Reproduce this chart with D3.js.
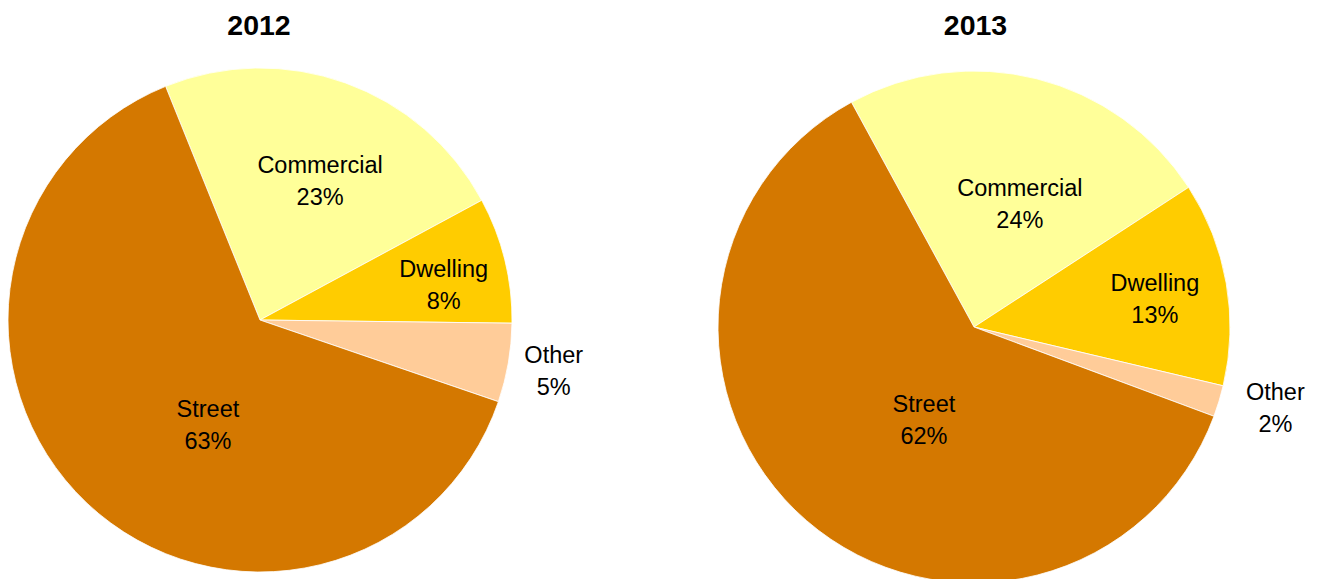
<!DOCTYPE html>
<html>
<head>
<meta charset="utf-8">
<script src="https://cdn.jsdelivr.net/npm/d3@7"></script>
<style>
  html, body { margin: 0; padding: 0; background: #fff; }
  svg { display: block; }
  text { font-family: "Liberation Sans", Arial, sans-serif; fill: #000; }
</style>
</head>
<body>
<svg id="chart" width="1317" height="579"></svg>
<script>
// Share of incidents by location type, per year
const categories = ["Commercial", "Dwelling", "Other", "Street"];
const years = ["2012", "2013"];
const values2012 = [23, 8, 5, 63];
const values2013 = [24, 13, 2, 62];
const sliceColors = ["#FFFF99", "#FFCC00", "#FFCC99", "#D47800"];

// Layout for each pie: centre, radius, rotation of the first slice,
// and per-slice label placement (radius factor, angular nudge in degrees).
const pies = [
  { year: years[0], values: values2012, cx: 260, cy: 320, r: 252, start: -22,
    titleX: 259,
    labelR: [0.601, 0.742, 1.183, 0.464], labelShift: [3.55, 3, 0, -17] },
  { year: years[1], values: values2013, cx: 974, cy: 327, r: 256, start: -28.6,
    titleX: 975.5,
    labelR: [0.512, 0.715, 1.219, 0.414], labelShift: [6.3, 1, -1.8, -12.7] }
];

const svg = d3.select("#chart");
const rad = Math.PI / 180;
const color = d3.scaleOrdinal().domain(categories).range(sliceColors);

pies.forEach(p => {
  const data = categories.map((c, i) => ({ name: c, value: p.values[i], idx: i }));
  const pie = d3.pie()
    .sort(null)
    .value(d => d.value)
    .startAngle(p.start * rad)
    .endAngle((p.start + 360) * rad);
  const arcs = pie(data);
  const arc = d3.arc().innerRadius(0).outerRadius(p.r);

  svg.append("text")
    .attr("x", p.titleX)
    .attr("y", 35)
    .attr("text-anchor", "middle")
    .style("font-size", "28.5px")
    .style("font-weight", "bold")
    .text(p.year);

  const g = svg.append("g").attr("transform", `translate(${p.cx},${p.cy})`);

  g.selectAll("path")
    .data(arcs)
    .join("path")
    .attr("d", arc)
    .attr("fill", d => color(d.data.name))
    .attr("stroke", "#ffffff")
    .attr("stroke-width", 0.8);

  const labels = g.selectAll("g.lbl")
    .data(arcs)
    .join("g")
    .attr("class", "lbl")
    .attr("transform", d => {
      const i = d.data.idx;
      const a = (d.startAngle + d.endAngle) / 2 + p.labelShift[i] * rad;
      const dist = p.r * p.labelR[i];
      return `translate(${Math.sin(a) * dist},${-Math.cos(a) * dist})`;
    });

  labels.append("text")
    .attr("text-anchor", "middle")
    .attr("y", -8)
    .style("font-size", "23.5px")
    .text(d => d.data.name);

  labels.append("text")
    .attr("text-anchor", "middle")
    .attr("y", 24)
    .style("font-size", "23.5px")
    .text(d => d.data.value + "%");
});
</script>
</body>
</html>
